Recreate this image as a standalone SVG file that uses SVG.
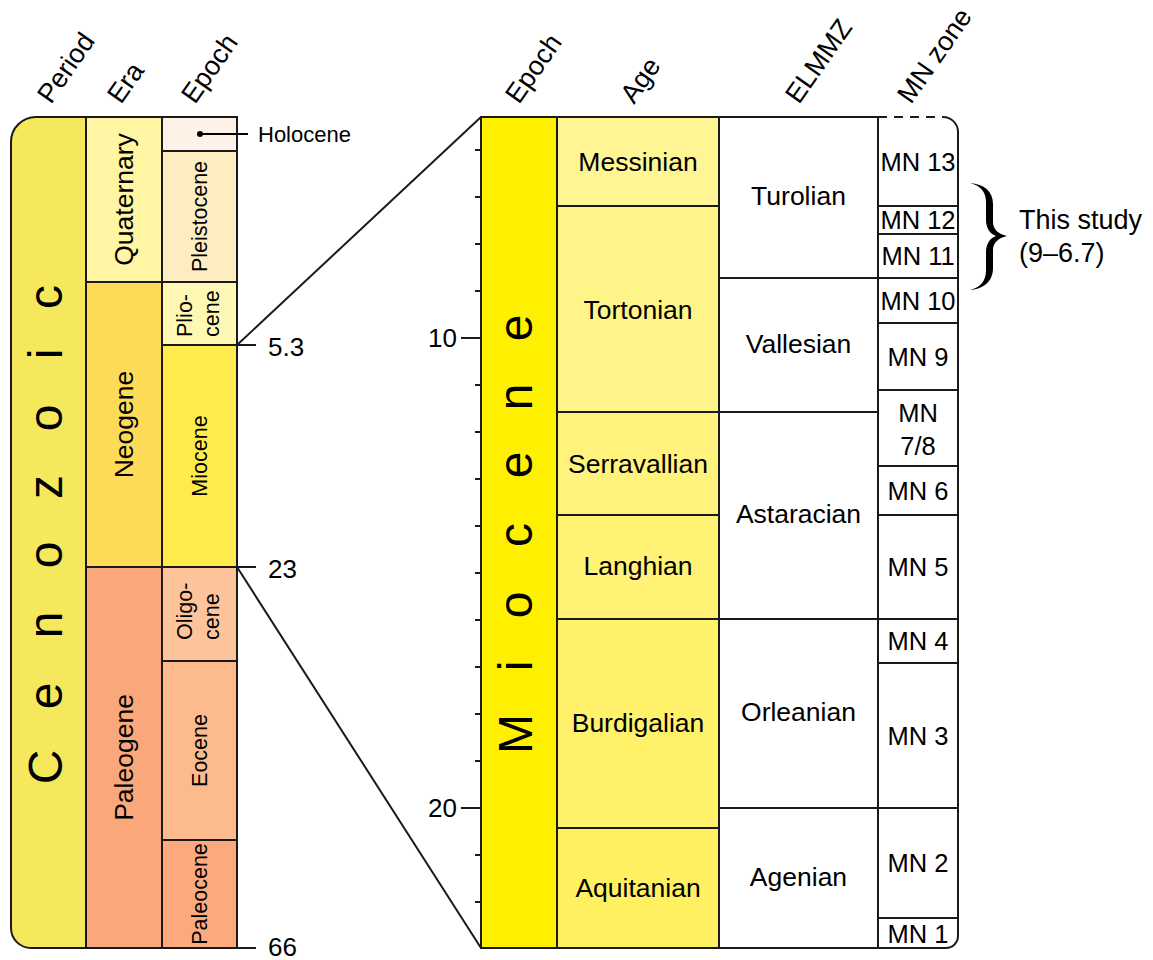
<svg xmlns="http://www.w3.org/2000/svg" width="1153" height="960" viewBox="0 0 1153 960">
<style>
.b{stroke:#1a1a1a;stroke-width:2;fill:none}
.f{stroke:none}
text{font-family:"Liberation Sans",Arial,Helvetica,sans-serif;fill:#000}
.h{font-size:27px}
.era{font-size:26.5px}
.ep{font-size:21.5px}
.lab{font-size:26.5px;text-anchor:middle}
.mn{font-size:25.5px;text-anchor:middle}
.num{font-size:26px}
.big{font-size:48px;text-anchor:middle}
</style>
<rect width="1153" height="960" fill="#ffffff"/>

<!-- headers -->
<g id="headers">
<text class="h" transform="translate(51,105) rotate(-55)">Period</text>
<text class="h" transform="translate(121,105) rotate(-55)">Era</text>
<text class="h" transform="translate(195,105) rotate(-55)">Epoch</text>
<text class="h" transform="translate(519,105) rotate(-55)">Epoch</text>
<text class="h" transform="translate(634,105) rotate(-55)">Age</text>
<text class="h" transform="translate(799,105) rotate(-55)">ELMMZ</text>
<text class="h" transform="translate(911,105) rotate(-55)">MN zone</text>
</g>

<!-- left chart -->
<g id="cenozoic">
<path d="M36,117 H86 V948 H31 A20,20 0 0 1 11,928 V142 A25,25 0 0 1 36,117 Z" fill="#F6E85D" class="f"/>
<text class="big" transform="translate(62,0) rotate(-90)" x="-767 -696 -625 -555 -487 -418 -354 -297" y="0">Cenozoic</text>
</g>
<g id="quaternary">
<rect x="86" y="117" width="76" height="165" fill="#FFF5A2"/>
<text class="era" text-anchor="middle" transform="translate(133,199.5) rotate(-90)">Quaternary</text>
</g>
<g id="neogene">
<rect x="86" y="282" width="76" height="285" fill="#FEDB56"/>
<text class="era" text-anchor="middle" transform="translate(133,424.5) rotate(-90)">Neogene</text>
</g>
<g id="paleogene">
<rect x="86" y="567" width="76" height="381" fill="#FAA87B"/>
<text class="era" text-anchor="middle" transform="translate(133,757.5) rotate(-90)">Paleogene</text>
</g>
<g id="holocene">
<rect x="162" y="117" width="75" height="34" fill="#FEF1E6"/>
<circle cx="200" cy="134" r="3" fill="#000"/>
<line x1="200" y1="134" x2="248" y2="134" stroke="#000" stroke-width="2"/>
<text x="258" y="142" style="font-size:22px">Holocene</text>
</g>
<g id="pleistocene">
<rect x="162" y="151" width="75" height="131" fill="#FFEDC2"/>
<text class="ep" text-anchor="middle" transform="translate(207,216.5) rotate(-90)">Pleistocene</text>
</g>
<g id="pliocene">
<rect x="162" y="282" width="75" height="63" fill="#FFF8B4"/>
<text class="ep" transform="translate(192,337) rotate(-90)">Plio-</text>
<text class="ep" transform="translate(219,337) rotate(-90)">cene</text>
</g>
<g id="miocene-left">
<rect x="162" y="345" width="75" height="222" fill="#FFEC4C"/>
<text class="ep" text-anchor="middle" transform="translate(207,456) rotate(-90)">Miocene</text>
</g>
<g id="oligocene">
<rect x="162" y="567" width="75" height="94" fill="#FDC49B"/>
<text class="ep" transform="translate(192,640) rotate(-90)">Oligo-</text>
<text class="ep" transform="translate(219,640) rotate(-90)">cene</text>
</g>
<g id="eocene">
<rect x="162" y="661" width="75" height="179" fill="#FDBA8D"/>
<text class="ep" text-anchor="middle" transform="translate(207,750.5) rotate(-90)">Eocene</text>
</g>
<g id="paleocene">
<rect x="162" y="840" width="75" height="108" fill="#FBA97D"/>
<text class="ep" text-anchor="middle" transform="translate(207,894) rotate(-90)">Paleocene</text>
</g>
<g id="left-lines">
<path class="b" d="M36,117 H237 V948 H31 A20,20 0 0 1 11,928 V142 A25,25 0 0 1 36,117 Z"/>
<path class="b" d="M86,117 V948 M162,117 V948 M86,282 H237 M86,567 H237 M162,151 H237 M162,345 H237 M162,661 H237 M162,840 H237"/>
<path class="b" d="M237,345 H256 M237,567 H256 M237,948 H256"/>
<text class="num" x="268" y="356">5.3</text>
<text class="num" x="268" y="578">23</text>
<text class="num" x="268" y="956">66</text>
</g>

<!-- connectors -->
<g id="connectors">
<line class="b" x1="237" y1="345" x2="481" y2="117"/>
<line class="b" x1="237" y1="567" x2="481" y2="948"/>
</g>

<!-- right chart -->
<g id="miocene">
<rect x="481" y="117" width="76" height="831" fill="#FFF000"/>
<text class="big" transform="translate(532,0) rotate(-90)" x="-734 -666 -605 -535 -465 -397 -328" y="0">Miocene</text>
</g>
<g id="messinian">
<rect x="557" y="117" width="162" height="89" fill="#FFF594"/>
<text class="lab" x="638" y="171">Messinian</text>
</g>
<g id="tortonian">
<rect x="557" y="206" width="162" height="206" fill="#FFF488"/>
<text class="lab" x="638" y="318.5">Tortonian</text>
</g>
<g id="serravallian">
<rect x="557" y="412" width="162" height="103" fill="#FFF37E"/>
<text class="lab" x="638" y="472.5">Serravallian</text>
</g>
<g id="langhian">
<rect x="557" y="515" width="162" height="104" fill="#FFF274"/>
<text class="lab" x="638" y="575">Langhian</text>
</g>
<g id="burdigalian">
<rect x="557" y="619" width="162" height="209" fill="#FFF16A"/>
<text class="lab" x="638" y="732">Burdigalian</text>
</g>
<g id="aquitanian">
<rect x="557" y="828" width="162" height="120" fill="#FFF062"/>
<text class="lab" x="638" y="896.5">Aquitanian</text>
</g>
<g id="turolian"><text class="lab" x="798.5" y="205">Turolian</text></g>
<g id="vallesian"><text class="lab" x="798.5" y="353">Vallesian</text></g>
<g id="astaracian"><text class="lab" x="798.5" y="523">Astaracian</text></g>
<g id="orleanian"><text class="lab" x="798.5" y="721">Orleanian</text></g>
<g id="agenian"><text class="lab" x="798.5" y="886">Agenian</text></g>
<g id="mn13"><text class="mn" x="918" y="171">MN 13</text></g>
<g id="mn12"><text class="mn" x="918" y="229">MN 12</text></g>
<g id="mn11"><text class="mn" x="918" y="265">MN 11</text></g>
<g id="mn10"><text class="mn" x="918" y="310">MN 10</text></g>
<g id="mn9"><text class="mn" x="918" y="366">MN 9</text></g>
<g id="mn78"><text class="mn" x="918" y="422">MN</text><text class="mn" x="918" y="455">7/8</text></g>
<g id="mn6"><text class="mn" x="918" y="500">MN 6</text></g>
<g id="mn5"><text class="mn" x="918" y="576">MN 5</text></g>
<g id="mn4"><text class="mn" x="918" y="650">MN 4</text></g>
<g id="mn3"><text class="mn" x="918" y="745">MN 3</text></g>
<g id="mn2"><text class="mn" x="918" y="872">MN 2</text></g>
<g id="mn1"><text class="mn" x="918" y="943">MN 1</text></g>

<g id="right-lines">
<path class="b" d="M878,117 H481 V948 H946 A12,12 0 0 0 958,936 V132 A15,15 0 0 0 943,117"/>
<path class="b" d="M878,117 H943" stroke-dasharray="9 7"/>
<path class="b" d="M557,117 V948 M719,117 V948 M878,117 V948"/>
<path class="b" d="M557,206 H719 M557,412 H719 M557,515 H719 M557,619 H719 M557,828 H719"/>
<path class="b" d="M719,278 H878 M719,412 H878 M719,619 H878 M719,808 H878"/>
<path class="b" d="M878,206 H958 M878,234 H958 M878,278 H958 M878,323 H958 M878,390 H958 M878,466 H958 M878,515 H958 M878,619 H958 M878,663 H958 M878,808 H958 M878,918 H958"/>
</g>

<g id="ticks">
<path class="b" d="M475,150 H481 M475,197 H481 M475,244 H481 M475,291 H481 M461,338 H481 M475,385 H481 M475,432 H481 M475,479 H481 M475,526 H481 M475,573 H481 M475,620 H481 M475,667 H481 M475,714 H481 M475,761 H481 M461,808 H481 M475,855 H481 M475,902 H481"/>
<text class="num" x="457" y="347" text-anchor="end">10</text>
<text class="num" x="457" y="817" text-anchor="end">20</text>
</g>

<g id="this-study">
<path d="M970,183 C984,184 993,191 993,204 L993,222 C993,229 998,234 1007,236 C998,238 993,243 993,250 L993,268 C993,281 984,289 970,290 C981,287 986,281 986,270 L986,252 C986,244 990,238 996,236 C990,234 986,228 986,220 L986,202 C986,192 981,186 970,183 Z" fill="#000"/>
<text x="1019" y="229" style="font-size:27px">This study</text>
<text x="1019" y="262" style="font-size:27px">(9–6.7)</text>
</g>
</svg>
